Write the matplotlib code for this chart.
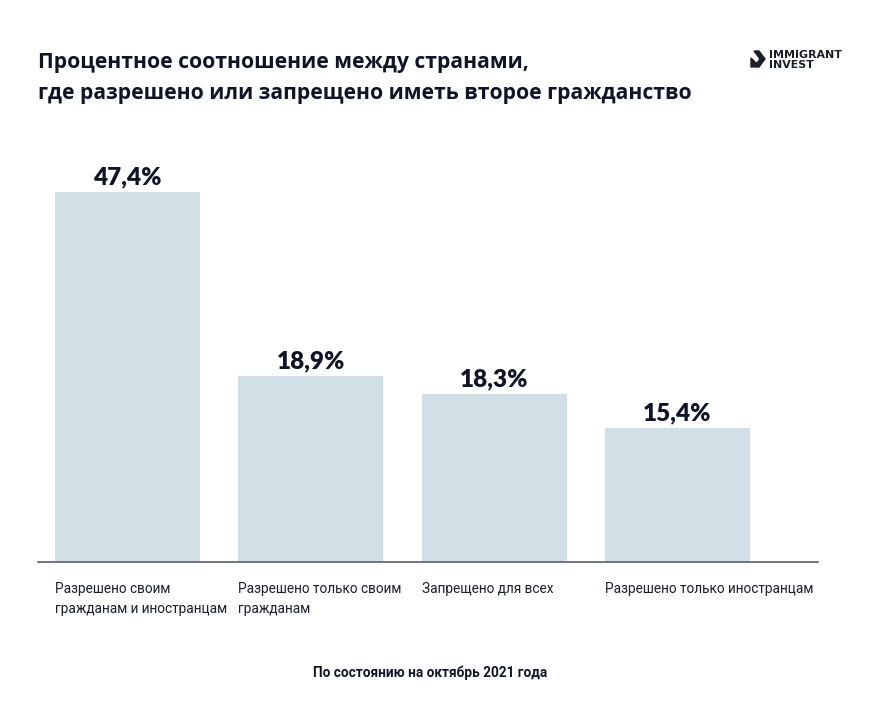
import matplotlib
matplotlib.use("Agg")
import matplotlib.pyplot as plt
from matplotlib.patches import Polygon

categories = ["Разрешено своим\nгражданам и иностранцам",
              "Разрешено только своим\nгражданам",
              "Запрещено для всех",
              "Разрешено только иностранцам"]
values = [47.4, 18.9, 18.3, 15.4]
value_labels = ["47,4%", "18,9%", "18,3%", "15,4%"]
# bar heights as drawn in the picture (not to scale with the values)
bar_heights = [370, 186, 168, 134]

title = "Процентное соотношение между странами,\nгде разрешено или запрещено иметь второе гражданство"
footer = "По состоянию на октябрь 2021 года"

W, H = 869, 712
fig = plt.figure(figsize=(W / 100, H / 100), dpi=100)
fig.patch.set_facecolor("white")

dark = "#0f1527"
bar_color = "#d0e0e6"

ax_left, ax_right = 38, 818
ax_top, ax_bot = 150, 562
ax = fig.add_axes([ax_left / W, 1 - ax_bot / H, (ax_right - ax_left) / W, (ax_bot - ax_top) / H])
spacing = 183.3
c0 = 127.5 - ax_left
ax.set_xlim(-c0 / spacing, (ax_right - ax_left - c0) / spacing)
ax.set_ylim(0, ax_bot - ax_top)
width = 145 / spacing
xs = list(range(len(categories)))
ax.bar(xs, bar_heights, width=width, color=bar_color, zorder=2)
for s in ["top", "right", "left"]:
    ax.spines[s].set_visible(False)
ax.spines["bottom"].set_color("#5a5f66")
ax.spines["bottom"].set_linewidth(1.2)
ax.set_xticks([])
ax.set_yticks([])
ax.patch.set_alpha(0)

for x, h, lab in zip(xs, bar_heights, value_labels):
    ax.text(x, h + 4, lab, ha="center", va="bottom", fontsize=17.5,
            fontweight="heavy", family=["Lato", "DejaVu Sans"], color=dark)

for x, cat in zip(xs, categories):
    ax.text(x - width / 2, -20, cat, ha="left", va="top", fontsize=9.8,
            family=["Roboto", "DejaVu Sans"], color="#1a1f2b", linespacing=1.5,
            transform=ax.transData, clip_on=False)

fig.text(38 / W, 1 - 52 / H, title, ha="left", va="top", fontsize=15.2,
         fontweight="bold", family=["Open Sans", "DejaVu Sans"], color=dark,
         linespacing=1.6)

fig.text(430 / W, 1 - 673 / H, footer, ha="center", va="center", fontsize=9.8,
         fontweight="bold", family=["Roboto", "DejaVu Sans"], color=dark)

# logo
fig.text(769 / W, 1 - 60 / H, "IMMIGRANT\nINVEST", ha="left", va="center", fontsize=7.9,
         fontweight="bold", family=["DejaVu Sans"], color="#1b1f2a", linespacing=0.95)
chev = [(754, 51), (759, 51), (765, 59), (759, 67), (754, 67), (760, 59)]
fig.add_artist(Polygon([(x / W, 1 - y / H) for x, y in chev], closed=True,
                       transform=fig.transFigure, color="#1b1f2a"))
chev2 = [(751, 58), (756, 63), (753, 67), (751, 67)]
fig.add_artist(Polygon([(x / W, 1 - y / H) for x, y in chev2], closed=True,
                       transform=fig.transFigure, color="#1b1f2a"))

fig.savefig("out.png", dpi=100, facecolor="white")
